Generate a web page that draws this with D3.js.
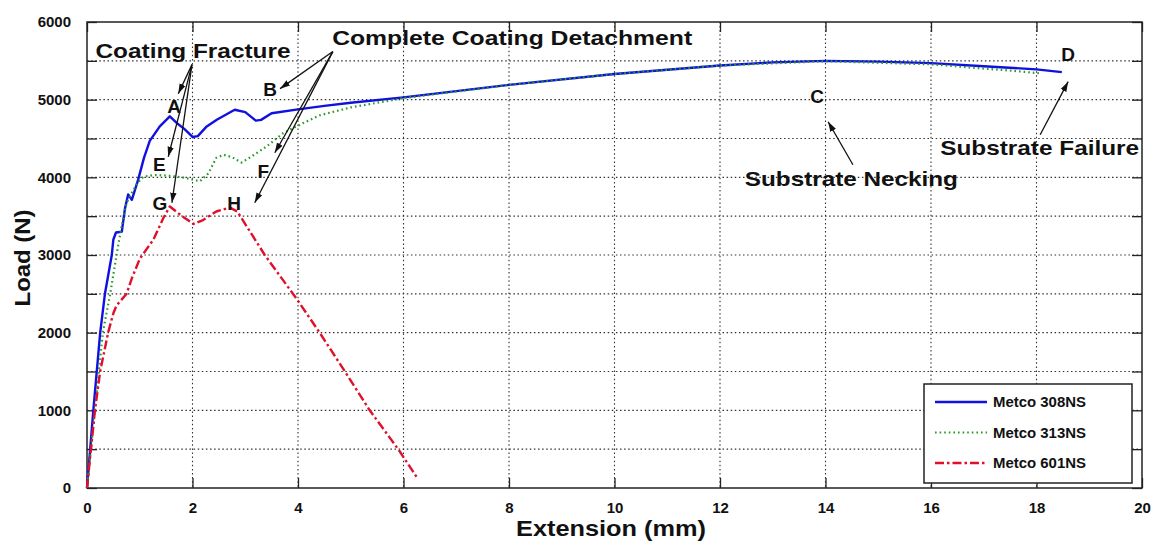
<!DOCTYPE html>
<html>
<head>
<meta charset="utf-8">
<script src="https://cdn.jsdelivr.net/npm/d3@7/dist/d3.min.js"></script>
<style>
    body { margin: 0; background: #fff; }
    svg text { font-family: "Liberation Sans", Arial, sans-serif; font-weight: bold; fill: #111; }
</style>
</head>
<body>
<div id="graph"></div>
<script>
// tick values
const xTicks = [0, 2, 4, 6, 8, 10, 12, 14, 16, 18, 20];
const yTicks = [0, 500, 1000, 1500, 2000, 2500, 3000, 3500, 4000, 4500, 5000, 5500, 6000];
const yLabelled = [0, 1000, 2000, 3000, 4000, 5000, 6000];

// series: [extension (mm), load (N)]
const metco308 = [[0,0],[0.12,1000],[0.25,2000],[0.34,2500],[0.47,3000],[0.5,3200],[0.55,3290],[0.66,3300],
    [0.72,3600],[0.78,3780],[0.85,3710],[0.97,3970],[1.08,4250],[1.19,4470],[1.38,4656],[1.57,4785],[1.7,4700],
    [1.85,4620],[2.0,4520],[2.1,4530],[2.27,4656],[2.46,4742],[2.8,4870],[3.0,4840],[3.2,4730],[3.3,4740],
    [3.5,4825],[4.0,4875],[4.5,4920],[5.0,4960],[6.0,5030],[8.0,5190],[10.0,5330],[12.0,5440],[13.0,5480],
    [14.0,5500],[15.0,5490],[16.0,5470],[17.0,5430],[18.0,5390],[18.48,5355]];
const metco313 = [[0,0],[0.15,1000],[0.3,2000],[0.44,2500],[0.56,3000],[0.65,3350],[0.75,3670],[0.85,3800],
    [0.95,3920],[1.07,4010],[1.3,4030],[1.57,4020],[1.8,4000],[2.14,3950],[2.3,4050],[2.45,4250],[2.59,4290],
    [2.75,4260],[2.93,4190],[3.1,4260],[3.41,4400],[3.72,4570],[4.1,4700],[4.42,4800],[5.0,4900],[5.5,4960],
    [6.0,5020],[8.0,5190],[10.0,5330],[12.0,5440],[14.0,5495],[16.0,5455],[17.0,5400],[17.5,5375],[18.05,5340]];
const metco601 = [[0,0],[0.15,1000],[0.25,1500],[0.4,2000],[0.5,2250],[0.56,2350],[0.75,2500],[0.85,2700],
    [1.0,2950],[1.26,3200],[1.45,3480],[1.57,3625],[1.8,3500],[2.02,3400],[2.2,3450],[2.45,3560],[2.71,3610],
    [2.85,3560],[3.37,3000],[3.99,2420],[4.42,1990],[4.89,1500],[5.36,1000],[5.91,490],[6.26,130]];
const seriesNames = ['Metco 308NS', 'Metco 313NS', 'Metco 601NS'];

// annotation texts, anchored in data units
const notes = [
    { t: 'Coating Fracture', x: 2.01, y: 5541, big: true, len: 195 },
    { t: 'Complete Coating Detachment', x: 8.06, y: 5709, big: true, len: 360 },
    { t: 'Substrate Necking', x: 14.49, y: 3883, big: true, len: 213 },
    { t: 'Substrate Failure', x: 18.06, y: 4291, big: true, len: 199 },
    { t: 'A', x: 1.65, y: 4833 }, { t: 'B', x: 3.47, y: 5043 },
    { t: 'C', x: 13.84, y: 4961 }, { t: 'D', x: 18.6, y: 5494 },
    { t: 'E', x: 1.37, y: 4076 }, { t: 'F', x: 3.34, y: 3991 },
    { t: 'G', x: 1.38, y: 3582 }, { t: 'H', x: 2.79, y: 3582 }
];
// arrows: [from, to] in data units
const arrows = [
    [[1.99,5451],[1.73,5077]], [[1.99,5451],[1.54,4265]], [[1.99,5451],[1.61,3673]],
    [[4.66,5619],[3.66,5142]], [[4.66,5619],[3.56,4317]], [[4.66,5619],[3.18,3673]],
    [[14.52,4162],[14.05,4716]], [[18.07,4549],[18.6,5232]]
];

class LoadChart {
    constructor() {
        this.width = 1154;
        this.height = 544;
        this.m = { left: 87, top: 22, right: 1142, bottom: 488 };

        this.svg = d3.select('#graph').append('svg')
            .attr('width', this.width)
            .attr('height', this.height);

        this.x = d3.scaleLinear().domain([0, 20]).range([this.m.left, this.m.right]);
        this.y = d3.scaleLinear().domain([0, 6000]).range([this.m.bottom, this.m.top]);

        this.series = [
            { name: seriesNames[0], data: metco308, color: '#1010e0', dash: null, w: 2.4 },
            { name: seriesNames[1], data: metco313, color: '#2a9a2a', dash: '1.6,3', w: 2.2 },
            { name: seriesNames[2], data: metco601, color: '#e0102a', dash: '9,3,2.5,3', w: 2.4 }
        ];

        this.drawGrid();
        this.drawAxes();
        this.drawLines();
        this.drawNotes();
        this.drawLegend();
    }

    drawGrid() {
        const g = this.svg.append('g').attr('class', 'grid')
            .attr('stroke', '#333').attr('stroke-width', 1.1).attr('stroke-dasharray', '1.5,2.6');
        g.selectAll('.gx').data(xTicks.slice(1, -1)).join('line')
            .attr('x1', d => this.x(d)).attr('x2', d => this.x(d))
            .attr('y1', this.m.top).attr('y2', this.m.bottom);
        g.selectAll('.gy').data(yTicks.slice(1, -1)).join('line')
            .attr('y1', d => this.y(d)).attr('y2', d => this.y(d))
            .attr('x1', this.m.left).attr('x2', this.m.right);
    }

    drawAxes() {
        const tl = 10;
        const xb = d3.axisBottom(this.x).tickValues(xTicks).tickSize(-tl).tickPadding(tl + 4);
        const yl = d3.axisLeft(this.y).tickValues(yTicks).tickSize(-tl).tickPadding(tl + 6)
            .tickFormat(d => yLabelled.includes(d) ? d : '');
        const xt = d3.axisTop(this.x).tickValues(xTicks).tickSize(-tl).tickFormat('');
        const yr = d3.axisRight(this.y).tickValues(yTicks).tickSize(-tl).tickFormat('');

        const style = g => {
            g.select('.domain').remove();
            g.selectAll('line').attr('stroke', '#222').attr('stroke-width', 1.3);
            g.selectAll('text').attr('font-size', 15).attr('fill', '#111')
                .style('font-family', '"Liberation Sans", Arial, sans-serif').style('font-weight', 'bold');
        };
        this.svg.append('g').attr('transform', `translate(0,${this.m.bottom})`).call(xb).call(style);
        this.svg.append('g').attr('transform', `translate(${this.m.left},0)`).call(yl).call(style);
        this.svg.append('g').attr('transform', `translate(0,${this.m.top})`).call(xt).call(style);
        this.svg.append('g').attr('transform', `translate(${this.m.right},0)`).call(yr).call(style);

        this.svg.append('rect')
            .attr('x', this.m.left).attr('y', this.m.top)
            .attr('width', this.m.right - this.m.left).attr('height', this.m.bottom - this.m.top)
            .attr('fill', 'none').attr('stroke', '#222').attr('stroke-width', 1.5);

        // axis titles
        this.svg.append('text')
            .attr('x', 611).attr('y', 536)
            .attr('text-anchor', 'middle').attr('font-size', 22)
            .attr('textLength', 190).attr('lengthAdjust', 'spacingAndGlyphs')
            .text('Extension (mm)');
        this.svg.append('text')
            .attr('transform', 'translate(30,258) rotate(-90)')
            .attr('text-anchor', 'middle').attr('font-size', 22)
            .attr('textLength', 97).attr('lengthAdjust', 'spacingAndGlyphs')
            .text('Load (N)');
    }

    drawLines() {
        const line = d3.line().x(d => this.x(d[0])).y(d => this.y(d[1]));
        this.svg.append('g').selectAll('path').data(this.series).join('path')
            .attr('d', d => line(d.data))
            .attr('fill', 'none')
            .attr('stroke', d => d.color)
            .attr('stroke-width', d => d.w)
            .attr('stroke-dasharray', d => d.dash)
            .attr('stroke-linejoin', 'round');
    }

    drawNotes() {
        this.svg.append('defs').append('marker')
            .attr('id', 'head').attr('viewBox', '0 -4 10 8')
            .attr('refX', 10).attr('refY', 0)
            .attr('markerWidth', 10).attr('markerHeight', 8)
            .attr('markerUnits', 'userSpaceOnUse')
            .attr('orient', 'auto')
            .append('path').attr('d', 'M0,-3.2L10,0L0,3.2Z').attr('fill', '#111');

        this.svg.append('g').selectAll('line').data(arrows).join('line')
            .attr('x1', d => this.x(d[0][0])).attr('y1', d => this.y(d[0][1]))
            .attr('x2', d => this.x(d[1][0])).attr('y2', d => this.y(d[1][1]))
            .attr('stroke', '#111').attr('stroke-width', 1.3)
            .attr('marker-end', 'url(#head)');

        const t = this.svg.append('g').selectAll('text').data(notes).join('text')
            .attr('x', d => this.x(d.x)).attr('y', d => this.y(d.y))
            .attr('text-anchor', 'middle')
            .attr('font-size', d => d.big ? 21 : 19)
            .text(d => d.t);
        t.filter(d => d.len)
            .attr('textLength', d => d.len).attr('lengthAdjust', 'spacingAndGlyphs');
    }

    drawLegend() {
        const box = { x: 924, y: 384, w: 208, h: 99 };
        const lg = this.svg.append('g');
        lg.append('rect')
            .attr('x', box.x).attr('y', box.y).attr('width', box.w).attr('height', box.h)
            .attr('fill', '#fff').attr('stroke', '#222').attr('stroke-width', 1.5);
        const rows = lg.selectAll('g').data(this.series).join('g')
            .attr('transform', (d, i) => `translate(${box.x},${box.y + 18 + i * 30.5})`);
        rows.append('line')
            .attr('x1', 11).attr('x2', 63)
            .attr('stroke', d => d.color).attr('stroke-width', d => d.w)
            .attr('stroke-dasharray', d => d.dash);
        rows.append('text')
            .attr('x', 69).attr('y', 5)
            .attr('font-size', 14)
            .attr('textLength', 93).attr('lengthAdjust', 'spacingAndGlyphs')
            .text(d => d.name);
    }
}

const chart = new LoadChart();
</script>
</body>
</html>
